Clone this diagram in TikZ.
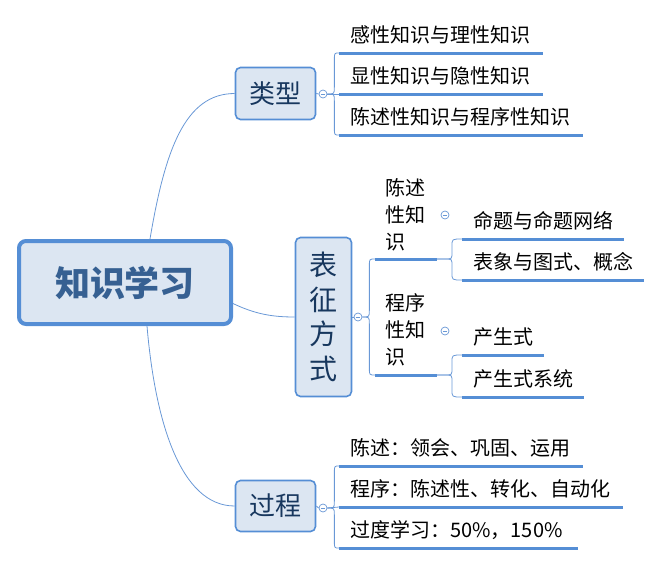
\documentclass[tikz,border=0pt]{standalone}
\usepackage{fontspec}
\setmainfont{Noto Sans CJK SC}
\usetikzlibrary{calc}
\definecolor{bc}{RGB}{85,142,213}
\definecolor{lc}{RGB}{105,152,214}
\definecolor{fc}{RGB}{220,230,242}
\definecolor{navy}{RGB}{23,55,94}
\definecolor{ctxt}{RGB}{54,96,146}
\tikzset{
  conn/.style={draw=lc, line width=0.8pt},
  mainbox/.style={draw=bc, line width=4pt, fill=fc, rounded corners=7pt, minimum width=212pt, minimum height=83pt, text=ctxt, font=\fontsize{35}{35}\selectfont\bfseries},
  topic/.style={draw=bc, line width=1.6pt, fill=fc, rounded corners=5pt, text=navy, font=\fontsize{26}{26}\selectfont, inner sep=0pt},
  coll/.style={circle, draw=lc, line width=0.7pt, fill=white, minimum size=8pt, inner sep=0pt,
    path picture={\draw[lc, line width=0.6pt] ([xshift=-2.2pt]path picture bounding box.center) -- ([xshift=2.2pt]path picture bounding box.center);}},
  leaf/.style={anchor=south west, inner xsep=11pt, inner ysep=0pt, text height=16pt, text depth=10pt, text width=#1, align=left, font=\fontsize{20}{20}\selectfont},
  sub/.style={anchor=base west, inner xsep=0pt, inner ysep=0pt, align=left, font=\fontsize{20}{27}\selectfont},
  uline/.style={draw=bc, line width=3pt},
  brk/.style={to path={let \p1=(\tikztostart), \p2=(\tikztotarget), \n1={(\y2>\y1)*2-1} in
    -- (\x1+#1-7pt,\y1) .. controls (\x1+#1,\y1) .. (\x1+#1,\y1+7pt*\n1)
    -- (\x1+#1,\y2-7pt*\n1) .. controls (\x1+#1,\y2) .. (\tikztotarget)}}
}
\begin{document}
\begin{tikzpicture}[x=1pt,y=-1pt]
\useasboundingbox (0,0) rectangle (662,565);

% central and main topics
\node[mainbox] (ctr) at (125,282.5) {知识学习};
\node[topic, minimum width=80pt, minimum height=52pt] (lx) at (275.5,93.5) {类型};
\node[topic, minimum width=56pt, minimum height=159pt, align=center, font=\fontsize{28}{34.5}\selectfont] (bz) at (323.5,317) {表\\征\\方\\式};
\node[topic, minimum width=80pt, minimum height=51pt] (gc) at (275.5,506) {过程};

\draw[conn] ([xshift=25pt]ctr.north) .. controls (165,150) and (185,93.5) .. (lx.west);
\draw[conn] ([yshift=-21pt]ctr.east) .. controls (255,314) and (272,317) .. (bz.west);
\draw[conn] ([xshift=22pt]ctr.south) .. controls (155,420) and (180,506) .. (gc.west);

% collapse circles
\node[coll] (k1) at (323,94) {};
\node[coll] (k2) at (358,317) {};
\node[coll] (k3) at (323,508) {};
\draw[conn] (lx.east) -- (k1.west);
\draw[conn] (bz.east) -- (k2.west);
\draw[conn] (gc.east) -- (k3.west);

% 类型 children
\node[leaf=182pt] (a1) at (339,53) {感性知识与理性知识};
\node[leaf=182pt] (a2) at (339,94) {显性知识与隐性知识};
\node[leaf=222pt] (a3) at (339,135) {陈述性知识与程序性知识};
\foreach \n in {a1,a2,a3} \draw[uline] (\n.south west) -- (\n.south east);
\draw[conn] (k1.east) to[brk=7pt] (a1.south west);
\draw[conn] (k1.east) -- (a2.south west);
\draw[conn] (k1.east) to[brk=7pt] (a3.south west);

% 表征方式 children
\node[sub] (s1) at (385,249.5) {陈述\\性知\\识};
\node[sub] (s2) at (385,364.5) {程序\\性知\\识};
\coordinate (s1w) at (375,259);
\coordinate (s1e) at (437,259);
\coordinate (s2w) at (375,375);
\coordinate (s2e) at (437,375);
\draw[uline] (s1w) -- (s1e);
\draw[uline] (s2w) -- (s2e);
\draw[conn] (k2.east) to[brk=7pt] (s1w);
\draw[conn] (k2.east) to[brk=7pt] (s2w);
\node[coll] (k4) at (445,215) {};
\node[coll] (k5) at (445,331) {};

\node[leaf=140pt] (b1) at (462,239) {命题与命题网络};
\node[leaf=160pt] (b2) at (462,280) {表象与图式、概念};
\node[leaf=60pt] (b3) at (462,355) {产生式};
\node[leaf=100pt] (b4) at (462,397) {产生式系统};
\foreach \n in {b1,b2,b3,b4} \draw[uline] (\n.south west) -- (\n.south east);
\draw[conn] (s1e) to[brk=15pt] (b1.south west);
\draw[conn] (s1e) to[brk=15pt] (b2.south west);
\draw[conn] (s2e) to[brk=15pt] (b3.south west);
\draw[conn] (s2e) to[brk=15pt] (b4.south west);

% 过程 children
\node[leaf=222pt] (c1) at (339,466) {陈述：领会、巩固、运用};
\node[leaf=262pt] (c2) at (339,507) {程序：陈述性、转化、自动化};
\node[leaf=217pt] (c3) at (339,548) {过度学习：50\%，150\%};
\foreach \n in {c1,c2,c3} \draw[uline] (\n.south west) -- (\n.south east);
\draw[conn] (k3.east) to[brk=7pt] (c1.south west);
\draw[conn] (k3.east) -- (c2.south west);
\draw[conn] (k3.east) to[brk=7pt] (c3.south west);
\end{tikzpicture}
\end{document}
